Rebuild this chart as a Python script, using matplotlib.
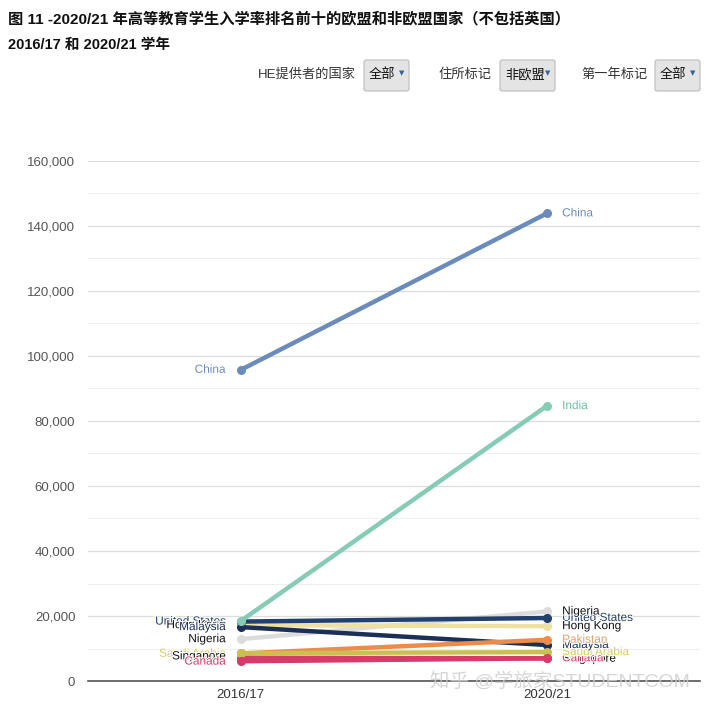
import matplotlib.pyplot as plt
import matplotlib.patheffects as pe
from matplotlib.patches import FancyBboxPatch
from matplotlib.ticker import MultipleLocator, FuncFormatter

plt.rcParams['font.family'] = ['Liberation Sans', 'Noto Sans CJK SC']

years = ['2016/17', '2020/21']
countries = ['China', 'India', 'United States', 'Hong Kong', 'Malaysia', 'Nigeria',
             'Pakistan', 'Saudi Arabia', 'Singapore', 'Canada']
v2016 = [95700, 18500, 18300, 17200, 16600, 12900, 8500, 8600, 7200, 6100]
v2020 = [143800, 84600, 19400, 16900, 11100, 21400, 12700, 8900, 7000, 7000]
colors = ['#6b8cba', '#86cbb5', '#21406e', '#ede0a0', '#1b2f57', '#dcdcdc',
          '#ec8c48', '#c9c050', '#d63b6b', '#d63b6b']
label_colors = ['#6b8cba', '#6fb9a3', '#21406e', '#111111', '#1b2f57', '#111111',
                '#e3a070', '#d4cc60', '#111111', '#d63b6b']
# labels drawn on each side, later ones sit on top of earlier ones
left_order = ['China', 'Saudi Arabia', 'Singapore', 'Canada', 'United States',
              'Hong Kong', 'Malaysia', 'Nigeria']
right_order = ['China', 'India', 'Singapore', 'Canada', 'Saudi Arabia', 'Malaysia',
               'Pakistan', 'United States', 'Hong Kong', 'Nigeria']
left_y = {'Singapore': 7600, 'Saudi Arabia': 8400, 'Canada': 6000}
right_y = {'Singapore': 6900, 'Canada': 7000}

fig = plt.figure(figsize=(7.2, 7.08), dpi=100)
ax = fig.add_axes([0.122, 0.038, 0.85, 0.735])

order = [8, 5, 3, 2, 4, 6, 7, 9, 1, 0]
for z, i in enumerate(order):
    ax.plot([0, 1], [v2016[i], v2020[i]], color=colors[i], lw=3.2,
            marker='o', ms=5.5, solid_capstyle='round', zorder=3 + z)

halo = [pe.withStroke(linewidth=1.5, foreground='white')]
for z, c in enumerate(left_order):
    i = countries.index(c)
    ax.text(-0.05, left_y.get(c, v2016[i]), c, ha='right', va='center', fontsize=8.5,
            color=label_colors[i], zorder=20 + z, path_effects=halo)
for z, c in enumerate(right_order):
    i = countries.index(c)
    ax.text(1.05, right_y.get(c, v2020[i]), c, ha='left', va='center', fontsize=8.5,
            color=label_colors[i], zorder=20 + z, path_effects=halo)

ax.set_xlim(-0.5, 1.5)
ax.set_ylim(0, 160000)
ax.set_xticks([0, 1])
ax.set_xticklabels(years, fontsize=9.5, color='#333333')
ax.yaxis.set_major_locator(MultipleLocator(20000))
ax.yaxis.set_minor_locator(MultipleLocator(10000))
ax.yaxis.set_major_formatter(FuncFormatter(lambda v, p: f'{int(v):,}'))
ax.tick_params(axis='y', labelsize=9.5, labelcolor='#555555', length=0, pad=9)
ax.tick_params(axis='y', which='minor', length=0)
ax.tick_params(axis='x', length=0, pad=6)
ax.grid(axis='y', which='major', color='#dddddd', lw=0.9)
ax.grid(axis='y', which='minor', color='#eeeeee', lw=0.7)
ax.set_axisbelow(True)
for s in ['top', 'right', 'left']:
    ax.spines[s].set_visible(False)
ax.spines['bottom'].set_color('#555555')
ax.spines['bottom'].set_linewidth(1.2)

# header
fig.text(8/720, 1-19/708, '图 11 -2020/21 年高等教育学生入学率排名前十的欧盟和非欧盟国家（不包括英国）',
         fontsize=11, fontweight='bold', va='center', color='#111111')
fig.text(8/720, 1-45/708, '2016/17 和 2020/21 学年', fontsize=10.5,
         fontweight='bold', va='center', color='#111111')

filters = [('HE提供者的国家', 356, 364, 409, '全部'),
           ('住所标记', 492, 500, 555, '非欧盟'),
           ('第一年标记', 648, 655, 700, '全部')]
for lab, lx, bx0, bx1, val in filters:
    fig.text(lx/720, 1-75/708, lab, fontsize=9.5, ha='right', va='center', color='#333333')
    box = FancyBboxPatch((bx0/720, 1-91/708), (bx1-bx0)/720, 31/708,
                         boxstyle='round,pad=0,rounding_size=0.003',
                         transform=fig.transFigure, facecolor='#e4e4e4',
                         edgecolor='#bbbbbb', lw=0.8)
    fig.add_artist(box)
    fig.text((bx0+5)/720, 1-75/708, val, fontsize=9.5, va='center', color='#111111')
    fig.text((bx1-7)/720, 1-73/708, '▼', fontsize=5, ha='center', va='center',
             color='#3a5fa0', family='DejaVu Sans')

fig.text(430/720, 1-681/708, '知乎 @学旅家STUDENTCOM', fontsize=14,
         color='#cccccc', va='center', alpha=0.8)

fig.savefig('out.png', dpi=100, facecolor='white')
